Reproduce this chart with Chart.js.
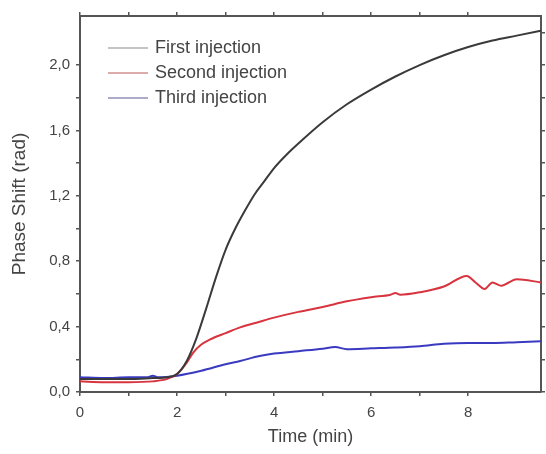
<!DOCTYPE html>
<html>
<head>
<meta charset="utf-8">
<script src="https://cdn.jsdelivr.net/npm/chart.js@4"></script>
<style>
  html, body { margin: 0; padding: 0; background: #fff; }
  #wrap { width: 546px; height: 454px; }
</style>
</head>
<body>
<div id="wrap"><canvas id="phaseChart" width="546" height="454"></canvas></div>
<script>
// values
var firstTime  = [0, 0.5, 1, 1.5, 1.8, 2.0, 2.2, 2.4, 2.6, 2.8, 3.0, 3.2, 3.4, 3.6, 3.8, 4.0, 4.25, 4.5, 5.0, 5.5, 6.0, 6.5, 7.0, 7.5, 8.0, 8.5, 9.0, 9.5];
var firstShift = [0.08, 0.08, 0.08, 0.085, 0.09, 0.11, 0.19, 0.33, 0.51, 0.70, 0.87, 1.00, 1.11, 1.21, 1.29, 1.37, 1.45, 1.52, 1.65, 1.76, 1.85, 1.93, 2.00, 2.06, 2.11, 2.15, 2.18, 2.21];

var secondTime  = [0, 0.5, 1, 1.5, 1.8, 2.0, 2.2, 2.33, 2.5, 2.67, 3.0, 3.3, 3.7, 4.0, 4.5, 5.0, 5.5, 6.0, 6.4, 6.5, 6.6, 7.0, 7.5, 7.97, 8.15, 8.34, 8.5, 8.68, 9.0, 9.5];
var secondShift = [0.065, 0.06, 0.06, 0.065, 0.08, 0.11, 0.18, 0.24, 0.29, 0.32, 0.36, 0.395, 0.43, 0.455, 0.49, 0.52, 0.555, 0.58, 0.595, 0.605, 0.595, 0.61, 0.645, 0.71, 0.67, 0.63, 0.67, 0.65, 0.69, 0.67];

var thirdTime  = [0, 0.5, 1, 1.4, 1.5, 1.6, 2.0, 2.5, 3.0, 3.3, 3.7, 4.0, 4.5, 5.0, 5.26, 5.5, 6.0, 6.5, 7.0, 7.5, 8.0, 8.5, 9.0, 9.5];
var thirdShift = [0.09, 0.085, 0.09, 0.09, 0.10, 0.09, 0.10, 0.13, 0.17, 0.19, 0.22, 0.235, 0.25, 0.265, 0.275, 0.262, 0.267, 0.272, 0.28, 0.295, 0.30, 0.30, 0.305, 0.31];

var seriesNames = ['First injection', 'Second injection', 'Third injection'];
var xTickLabels = ['0', '2', '4', '6', '8'];
var yTickLabels = ['0,0', '0,4', '0,8', '1,2', '1,6', '2,0'];

function toPoints(xs, ys) {
    return xs.map(function(x, i) { return { x: x, y: ys[i] }; });
}

var textColor = '#444';
var frameColor = '#555';
var fontFamily = '"Liberation Sans", Arial, sans-serif';

// legend drawn inside the plot area, top left
var innerLegend = {
    id: 'innerLegend',
    afterDraw: function(chart) {
        var ctx = chart.ctx;
        var area = chart.chartArea;
        var colors = ['#b0b0b0', '#d09090', '#9090b8'];
        ctx.save();
        ctx.font = '18px ' + fontFamily;
        ctx.textBaseline = 'middle';
        chart.data.datasets.forEach(function(ds, i) {
            var y = area.top + 32 + i * 25;
            ctx.strokeStyle = colors[i];
            ctx.lineWidth = 1.5;
            ctx.beginPath();
            ctx.moveTo(area.left + 28, y);
            ctx.lineTo(area.left + 68, y);
            ctx.stroke();
            ctx.fillStyle = textColor;
            ctx.fillText(ds.label, area.left + 75, y);
        });
        ctx.restore();
    }
};

function onGrid(step) {
    return function(scale) {
        scale.ticks = scale.ticks.filter(function(t) {
            var r = t.value / step;
            return Math.abs(r - Math.round(r)) < 1e-6;
        });
    };
}

document.addEventListener('DOMContentLoaded', function() {
    var ctx = document.getElementById('phaseChart').getContext('2d');
    new Chart(ctx, {
        type: 'line',
        data: {
            datasets: [{
                label: seriesNames[0],
                data: toPoints(firstTime, firstShift),
                borderColor: '#3a3a3a',
                borderWidth: 2,
                pointRadius: 0,
                cubicInterpolationMode: 'monotone'
            }, {
                label: seriesNames[1],
                data: toPoints(secondTime, secondShift),
                borderColor: '#d8343f',
                borderWidth: 2,
                pointRadius: 0,
                cubicInterpolationMode: 'monotone'
            }, {
                label: seriesNames[2],
                data: toPoints(thirdTime, thirdShift),
                borderColor: '#3a3ac0',
                borderWidth: 2,
                pointRadius: 0,
                cubicInterpolationMode: 'monotone'
            }]
        },
        options: {
            responsive: false,
            animation: false,
            layout: { padding: { top: 12, right: 1, left: 4, bottom: 2 } },
            plugins: {
                legend: { display: false },
                tooltip: { enabled: false }
            },
            scales: {
                x: {
                    type: 'linear',
                    position: 'bottom',
                    min: 0,
                    max: 9.5,
                    afterBuildTicks: onGrid(1),
                    afterFit: function(scale) { scale.height = 60; },
                    border: { color: frameColor, width: 2 },
                    grid: { drawOnChartArea: false, tickLength: 4, color: frameColor, lineWidth: 1.5 },
                    ticks: {
                        stepSize: 1,
                        maxRotation: 0,
                        autoSkip: false,
                        color: textColor,
                        padding: 8,
                        font: { family: fontFamily, size: 15 },
                        callback: function(v) {
                            return v % 2 === 0 ? xTickLabels[v / 2] : '';
                        }
                    },
                    title: {
                        display: true,
                        text: 'Time (min)',
                        color: textColor,
                        padding: { top: 6 },
                        font: { family: fontFamily, size: 18 }
                    }
                },
                xTop: {
                    type: 'linear',
                    position: 'top',
                    min: 0,
                    max: 9.5,
                    afterBuildTicks: onGrid(1),
                    border: { color: frameColor, width: 2 },
                    grid: { drawOnChartArea: false, tickLength: 4, color: frameColor, lineWidth: 1.5 },
                    ticks: { display: false, stepSize: 1 }
                },
                y: {
                    type: 'linear',
                    position: 'left',
                    min: 0,
                    max: 2.3,
                    afterBuildTicks: onGrid(0.2),
                    afterFit: function(scale) { scale.width = 76; },
                    border: { color: frameColor, width: 2 },
                    grid: { drawOnChartArea: false, tickLength: 4, color: frameColor, lineWidth: 1.5 },
                    ticks: {
                        stepSize: 0.2,
                        autoSkip: false,
                        color: textColor,
                        padding: 6,
                        font: { family: fontFamily, size: 15 },
                        callback: function(v) {
                            var k = Math.round(v / 0.4 * 1000) / 1000;
                            return Number.isInteger(k) ? yTickLabels[k] : '';
                        }
                    },
                    title: {
                        display: true,
                        text: 'Phase Shift (rad)',
                        color: textColor,
                        padding: { top: 4, bottom: 4 },
                        font: { family: fontFamily, size: 19 }
                    }
                },
                yRight: {
                    type: 'linear',
                    position: 'right',
                    min: 0,
                    max: 2.3,
                    afterBuildTicks: onGrid(0.2),
                    border: { color: frameColor, width: 2 },
                    grid: { drawOnChartArea: false, tickLength: 4, color: frameColor, lineWidth: 1.5 },
                    ticks: { display: false, stepSize: 0.2 }
                }
            }
        },
        plugins: [innerLegend]
    });
});
</script>
</body>
</html>
